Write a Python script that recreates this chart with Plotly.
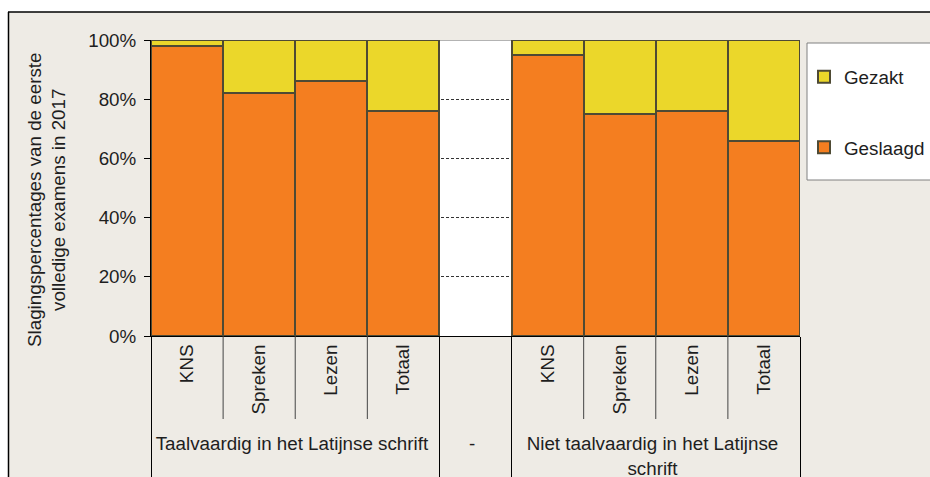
import plotly.graph_objects as go

# ---- data ----
group_names = ["Taalvaardig in het Latijnse schrift", "-", "Niet taalvaardig in het Latijnse<br>schrift"]
skills = ["KNS", "Spreken", "Lezen", "Totaal"]
outer = [group_names[0]] * 4 + [group_names[1]] + [group_names[2]] * 4
inner = skills + [" "] + skills
geslaagd = [98, 82, 86, 76, None, 95, 75, 76, 66]
gezakt = [2, 18, 14, 24, None, 5, 25, 24, 34]
y_ticks = [0, 20, 40, 60, 80, 100]
y_ticktext = ["0%", "20%", "40%", "60%", "80%", "100%"]

# ---- layout geometry (page pixels) ----
W, H = 930, 477
PL, PR, PT, PB = 151, 800, 40, 336          # plot area in page pixels
ML, MT = PL, PT
PW, PH = PR - PL, PB - PT
MR, MB = W - ML - PW, H - MT - PH


def px2x(px):
    return (px - PL) / PW


def py2y(py):
    return (PB - py) / PH


BG = "#EEEBE5"
ORANGE = "#F47E20"
YELLOW = "#EBD72A"
EDGE = "#4E4A34"
TXT = "#1e1e1e"
FONT = "Liberation Sans, Arial, sans-serif"
FS = 18.8

fig = go.Figure()
fig.add_trace(go.Bar(
    x=[outer, inner], y=geslaagd, name="Geslaagd", legendrank=2, legendgroup="g2",
    marker=dict(color=ORANGE, line=dict(color=EDGE, width=2)), width=1,
))
fig.add_trace(go.Bar(
    x=[outer, inner], y=gezakt, name="Gezakt", legendrank=1, legendgroup="g1",
    marker=dict(color=YELLOW, line=dict(color=EDGE, width=2)), width=1,
))

shapes = []
# white strips above / left of the frame + black frame lines (top and left)
shapes.append(dict(type="rect", xref="paper", yref="paper", x0=px2x(-5), x1=px2x(W + 20),
                   y0=py2y(12), y1=py2y(-5), fillcolor="white", line=dict(width=0), layer="below"))
shapes.append(dict(type="rect", xref="paper", yref="paper", x0=px2x(-5), x1=px2x(8),
                   y0=py2y(H + 20), y1=py2y(-5), fillcolor="white", line=dict(width=0), layer="below"))
shapes.append(dict(type="line", xref="paper", yref="paper", x0=px2x(8), x1=px2x(W + 20),
                   y0=py2y(12), y1=py2y(12), line=dict(color="black", width=1.5)))
shapes.append(dict(type="line", xref="paper", yref="paper", x0=px2x(8.5), x1=px2x(8.5),
                   y0=py2y(12), y1=py2y(H + 20), line=dict(color="black", width=1.5)))
# top edge of plot area
shapes.append(dict(type="line", xref="paper", yref="y", x0=0, x1=1, y0=100, y1=100,
                   line=dict(color="#9a9a9a", width=1.5), layer="below"))
# inner category separators below the axis
idx = 0
for g in group_names:
    n = outer.count(g)
    for k in range(1, n):
        xb = idx + k - 0.5
        shapes.append(dict(type="line", xref="x", yref="paper", x0=xb, x1=xb,
                           y0=0, y1=py2y(419), line=dict(color="#444444", width=1)))
    idx += n
# legend box
shapes.append(dict(type="rect", xref="paper", yref="paper", x0=px2x(807), x1=px2x(W + 20),
                   y0=py2y(180), y1=py2y(43), fillcolor="white",
                   line=dict(color="#808080", width=1), layer="below"))

fig.update_layout(
    width=W, height=H,
    margin=dict(l=ML, r=MR, t=MT, b=MB, autoexpand=False),
    paper_bgcolor=BG, plot_bgcolor="white",
    barmode="stack", bargap=0,
    font=dict(family=FONT, size=FS, color=TXT),
    showlegend=True,
    legend=dict(xref="container", yref="container",
                x=804 / W, xanchor="left", y=1 - 58 / H, yanchor="top",
                bgcolor="rgba(0,0,0,0)", borderwidth=0,
                traceorder="grouped", tracegroupgap=43,
                font=dict(size=FS, color=TXT)),
    shapes=shapes,
    annotations=[dict(
        text="Slagingspercentages van de eerste<br>volledige examens in 2017",
        xref="paper", yref="paper", x=px2x(46), y=py2y(200), textangle=-90,
        showarrow=False, font=dict(size=FS, color=TXT), xanchor="center", yanchor="middle",
    )],
)
fig.update_xaxes(
    automargin=False,
    showline=True, linecolor="black", linewidth=1,
    ticks="", tickangle=-90, tickfont=dict(size=FS, color=TXT),
    showdividers=True, dividercolor="black", dividerwidth=1,
    showgrid=False,
)
fig.update_yaxes(
    automargin=False,
    range=[0, 100], tickvals=y_ticks, ticktext=y_ticktext,
    showline=True, linecolor="black", linewidth=1,
    ticks="outside", ticklen=6, tickcolor="black",
    ticklabelstandoff=4,
    tickfont=dict(size=FS, color=TXT),
    showgrid=False, zeroline=False,
    minor=dict(tickvals=y_ticks[1:-1], showgrid=True, griddash="3px,2px",
               gridcolor="#333333", gridwidth=1, ticks=""),
)

fig.write_html(
    "out.html",
    config={"displayModeBar": False},
    post_script="document.body.style.margin='0';document.body.style.overflow='hidden';",
)
